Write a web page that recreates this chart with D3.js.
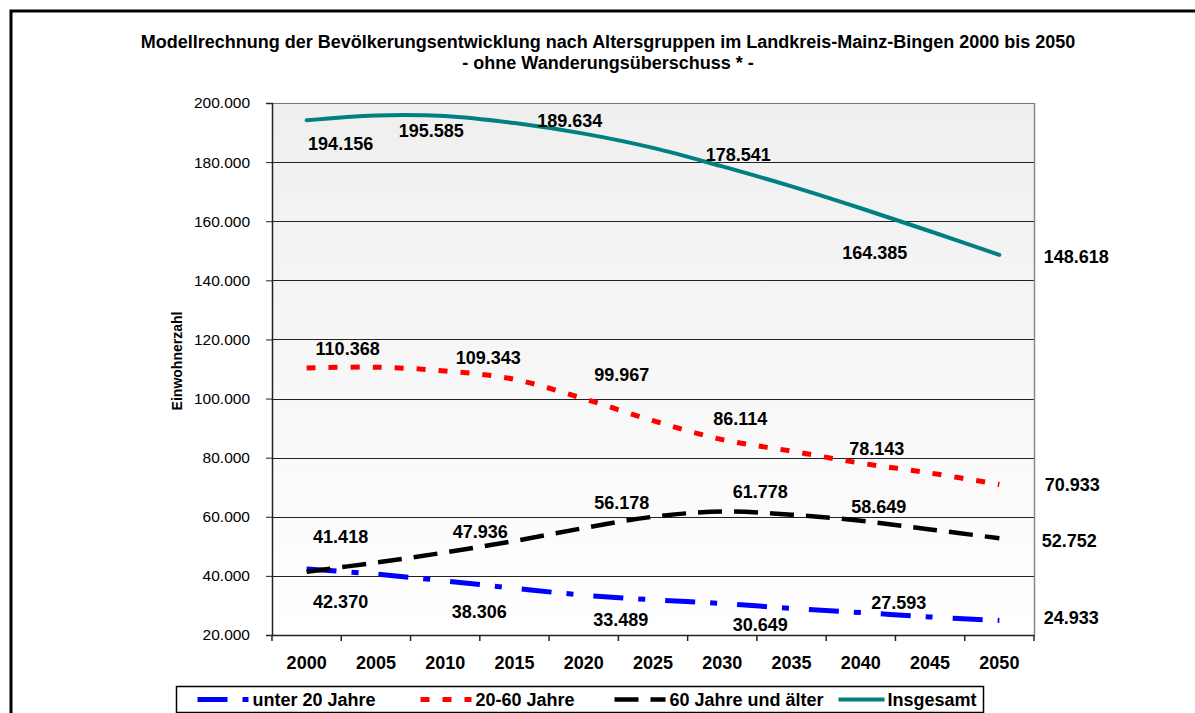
<!DOCTYPE html>
<html>
<head>
<meta charset="utf-8">
<script src="https://cdn.jsdelivr.net/npm/d3@7"></script>
<style>
  body { margin: 0; background: #fff; }
  text { font-family: "Liberation Sans", Arial, sans-serif; fill: #000; }
</style>
</head>
<body>
<div class="chart"></div>
<script>
const years = ["2000","2005","2010","2015","2020","2025","2030","2035","2040","2045","2050"];
const unter20 = [42370, 40600, 38306, 35800, 33489, 31900, 30649, 29000, 27593, 26100, 24933];
const mitte = [110368, 110600, 109343, 106500, 99967, 92500, 86114, 82200, 78143, 74800, 70933];
const ueber60 = [41418, 44500, 47936, 51800, 56178, 60000, 61778, 60700, 58649, 55700, 52752];
const gesamt = [194156, 195800, 195585, 193200, 189634, 184800, 178541, 171800, 164385, 156600, 148618];
const yTicks = [20000, 40000, 60000, 80000, 100000, 120000, 140000, 160000, 180000, 200000];
const seriesNames = ["unter 20 Jahre", "20-60 Jahre", "60 Jahre und älter", "Insgesamt"];

const width = 1195, height = 713;
const margin = {left: 272, right: 161, top: 103, bottom: 78};
const plotW = width - margin.left - margin.right, plotH = height - margin.top - margin.bottom;

// label offsets from the point (every 2nd year), hand placed like in the original
const labelOffsets = [
  [[34, 33], [34, 31], [37, 25], [38, 21], [38, -10], [72, -3]],
  [[41, -19], [43, -13], [38, -24], [18, -21], [16, -14], [73, 0]],
  [[34, -35], [35, -21], [38, -25], [38, -20], [18, -14], [70, 3]],
  [[34, 23], [-14, 15], [-14, -13], [16, -12], [14, 44], [77, 2]]
];

const styles = [
  {color: "#0000ff", width: 5, dash: "30,15,7,20"},
  {color: "#ff0000", width: 5, dash: "9,13"},
  {color: "#000000", width: 4.5, dash: "24,12"},
  {color: "#008080", width: 4, dash: null}
];

const series = [unter20, mitte, ueber60, gesamt].map((v, i) => ({name: seriesNames[i], values: v, style: styles[i], offs: labelOffsets[i]}));

const x = d3.scaleBand().domain(years).range([0, plotW]);
const y = d3.scaleLinear().domain([20000, 200000]).range([plotH, 0]);
const fmt = v => d3.format(",")(v).replace(/,/g, ".");

const svg = d3.select(".chart").append("svg")
    .attr("width", width)
    .attr("height", height);

const defs = svg.append("defs");
const grad = defs.append("linearGradient").attr("id", "bg").attr("x1", 0).attr("x2", 0).attr("y1", 0).attr("y2", 1);
grad.append("stop").attr("offset", "0%").attr("stop-color", "#efefef");
grad.append("stop").attr("offset", "100%").attr("stop-color", "#ffffff");

// outer frame (runs off the right and bottom edge)
svg.append("rect")
    .attr("x", 11).attr("y", 11)
    .attr("width", width + 20).attr("height", height + 20)
    .attr("fill", "none").attr("stroke", "#000").attr("stroke-width", 3);

svg.append("text")
    .attr("x", 608).attr("y", 48)
    .attr("text-anchor", "middle")
    .style("font-size", "18px").style("font-weight", "bold")
    .text("Modellrechnung der Bevölkerungsentwicklung nach Altersgruppen im Landkreis-Mainz-Bingen 2000 bis 2050");
svg.append("text")
    .attr("x", 608).attr("y", 69)
    .attr("text-anchor", "middle")
    .style("font-size", "18px").style("font-weight", "bold")
    .text("- ohne Wanderungsüberschuss * -");

const g = svg.append("g")
    .attr("transform", "translate(" + [margin.left, margin.top] + ")");

g.append("rect")
    .attr("width", plotW).attr("height", plotH)
    .attr("fill", "url(#bg)");

g.selectAll("line.grid")
    .data(yTicks.slice(1))
  .enter().append("line")
    .attr("class", "grid")
    .attr("x1", 0).attr("x2", plotW)
    .attr("y1", d => Math.round(y(d)) + 0.5).attr("y2", d => Math.round(y(d)) + 0.5)
    .attr("stroke", d => d === 200000 ? "#777" : "#222").attr("stroke-width", 1);

g.append("line")
    .attr("x1", plotW + 0.5).attr("x2", plotW + 0.5)
    .attr("y1", 0).attr("y2", plotH)
    .attr("stroke", "#888").attr("stroke-width", 1.5);

const yAxis = g.append("g")
    .call(d3.axisLeft(y).tickValues(yTicks).tickFormat(fmt).tickSize(6).tickPadding(16));
yAxis.select(".domain").attr("stroke", "#222").attr("stroke-width", 1.5);
yAxis.selectAll("line").attr("stroke", "#222");
yAxis.selectAll("text").style("font-size", "15.5px").style("font-family", "Liberation Sans, Arial, sans-serif");

const xAxis = g.append("g")
    .attr("transform", "translate(0," + plotH + ")")
    .call(d3.axisBottom(x).tickSize(0).tickPadding(21));
xAxis.select(".domain").attr("stroke", "#222").attr("stroke-width", 1.5);
xAxis.selectAll("text").style("font-size", "18px").style("font-weight", "bold").style("font-family", "Liberation Sans, Arial, sans-serif");
xAxis.selectAll("line.sep")
    .data(years.concat(["end"]))
  .enter().append("line")
    .attr("class", "sep")
    .attr("x1", (d, i) => i * x.step()).attr("x2", (d, i) => i * x.step())
    .attr("y1", 0).attr("y2", 6)
    .attr("stroke", "#222").attr("stroke-width", 1.5);

g.append("text")
    .attr("transform", "translate(-90," + (plotH / 2 - 8) + ") rotate(-90)")
    .attr("text-anchor", "middle")
    .style("font-size", "14px").style("font-weight", "bold")
    .text("Einwohnerzahl");

const line = d3.line()
    .x((d, i) => x(years[i]) + x.bandwidth() / 2)
    .y(d => y(d))
    .curve(d3.curveCatmullRom.alpha(0.5));

g.selectAll("path.series")
    .data(series)
  .enter().append("path")
    .attr("class", "series")
    .attr("d", d => line(d.values))
    .attr("fill", "none")
    .attr("stroke", d => d.style.color)
    .attr("stroke-width", d => d.style.width)
    .attr("stroke-dasharray", d => d.style.dash)
    .attr("stroke-linecap", d => d.style.dash ? "butt" : "round");

series.forEach(s => {
  const pts = s.values.map((v, i) => ({v, i})).filter(d => d.i % 2 === 0);
  g.selectAll(null)
      .data(pts)
    .enter().append("text")
      .attr("x", (d, k) => x(years[d.i]) + x.bandwidth() / 2 + s.offs[k][0])
      .attr("y", (d, k) => y(d.v) + s.offs[k][1])
      .attr("dy", "0.35em")
      .attr("text-anchor", "middle")
      .style("font-size", "18px").style("font-weight", "bold")
      .text(d => fmt(d.v));
});

// legend
const lg = svg.append("g").attr("transform", "translate(176.5,686.5)");
lg.append("rect")
    .attr("width", 807).attr("height", 26)
    .attr("fill", "#fff").attr("stroke", "#000").attr("stroke-width", 1.5);

const legendX = [21, 244, 438, 662];
const item = lg.selectAll("g.item")
    .data(series)
  .enter().append("g")
    .attr("class", "item")
    .attr("transform", (d, i) => "translate(" + legendX[i] + ",13)");
item.append("line")
    .attr("x1", 0).attr("x2", (d, i) => i === 3 ? 46 : 51)
    .attr("stroke", d => d.style.color)
    .attr("stroke-width", d => d.style.width)
    .attr("stroke-dasharray", d => d.style.dash);
item.append("text")
    .attr("x", (d, i) => i === 3 ? 49 : 55)
    .attr("dy", "0.35em")
    .style("font-size", "18px").style("font-weight", "bold")
    .text(d => d.name);
</script>
</body>
</html>
